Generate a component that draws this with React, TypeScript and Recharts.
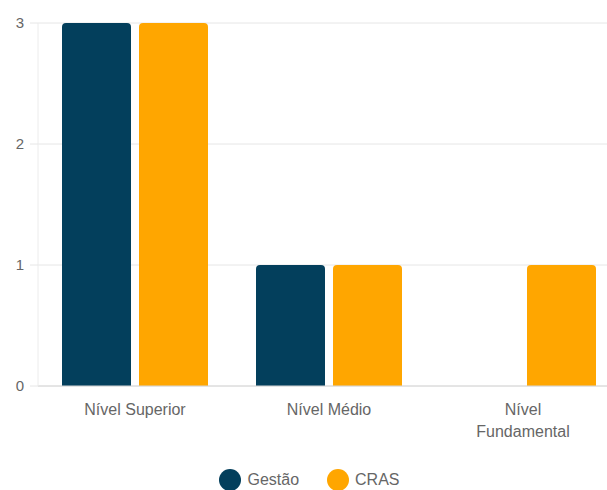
import React from "react";
import { BarChart, Bar, XAxis, YAxis, CartesianGrid, Legend } from "recharts";

const categories = ["Nível Superior", "Nível Médio", "Nível Fundamental"];
const categoryLines: string[][] = [["Nível Superior"], ["Nível Médio"], ["Nível", "Fundamental"]];
const gestaoValues = [3, 1, 0];
const crasValues = [3, 1, 1];
const yTicks = [0, 1, 2, 3];

const seriesNames = { gestao: "Gestão", cras: "CRAS" };
const colors = { gestao: "#033f5c", cras: "#ffa600" };

const data = categories.map((c, i) => ({
  name: c,
  gestao: gestaoValues[i],
  cras: crasValues[i],
}));

const FONT = "'Liberation Sans', Arial, sans-serif";

const XTick = (props: any) => {
  const { x, y, payload, index } = props;
  const lines = categoryLines[index] || [payload.value];
  return (
    <text x={x} y={y} textAnchor="middle" fill="#666" fontSize={16} fontFamily={FONT}>
      {lines.map((l, i) => (
        <tspan key={i} x={x} dy={i === 0 ? "0.71em" : 22}>
          {l}
        </tspan>
      ))}
    </text>
  );
};

const LegendContent = () => (
  <div
    style={{
      height: 30,
      width: 607,
      boxSizing: "border-box",
      paddingLeft: 12,
      display: "flex",
      justifyContent: "center",
      alignItems: "flex-end",
      fontFamily: FONT,
      fontSize: 16,
      color: "#666",
    }}
  >
    {(["gestao", "cras"] as const).map((k, i) => (
      <div
        key={k}
        style={{ display: "flex", alignItems: "center", marginLeft: i === 0 ? 0 : 28, height: 22, marginBottom: -1 }}
      >
        <div
          style={{ width: 22, height: 22, borderRadius: 11, background: colors[k], marginRight: 6 }}
        />
        <span>{seriesNames[k]}</span>
      </div>
    ))}
  </div>
);

export default function App() {
  return (
    <div
      style={{
        position: "absolute",
        left: 0,
        top: 0,
        width: 607,
        height: 490,
        overflow: "hidden",
        background: "#fff",
      }}
    >
      <BarChart
        width={625}
        height={490}
        data={data}
        margin={{ top: 23, right: 5, bottom: 0, left: 0 }}
        barSize={69}
        barGap={8}
      >
        <CartesianGrid vertical={false} stroke="#e6e6e6" />
        <XAxis
          dataKey="name"
          height={74}
          tickSize={0}
          tickMargin={18}
          tickLine={false}
          axisLine={{ stroke: "#d6d6d6" }}
          tick={<XTick />}
          interval={0}
        />
        <YAxis
          width={38}
          domain={[0, 3]}
          ticks={yTicks}
          tickSize={8}
          tickMargin={6}
          axisLine={{ stroke: "#ececec" }}
          tickLine={{ stroke: "#e6e6e6" }}
          tick={{ fill: "#666", fontSize: 15, fontFamily: FONT }}
        />
        <Legend
          verticalAlign="bottom"
          content={<LegendContent />}
          wrapperStyle={{ left: 0, width: 607, bottom: 0, height: 30 }}
        />
        <Bar
          dataKey="gestao"
          name={seriesNames.gestao}
          fill={colors.gestao}
          radius={[4, 4, 0, 0]}
          isAnimationActive={false}
        />
        <Bar
          dataKey="cras"
          name={seriesNames.cras}
          fill={colors.cras}
          radius={[4, 4, 0, 0]}
          isAnimationActive={false}
        />
      </BarChart>
    </div>
  );
}
